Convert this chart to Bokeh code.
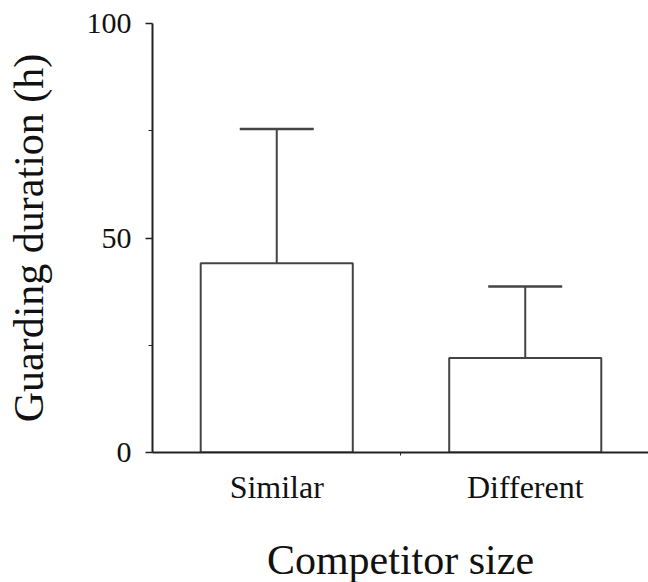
from bokeh.plotting import figure
from bokeh.models import Range1d, FixedTicker, Whisker, TeeHead, ColumnDataSource
from bokeh.embed import file_html
from bokeh.resources import INLINE

# data
categories = ["Similar", "Different"]
positions = [0.5, 1.5]
means = [44.1, 22.0]
sds = [31.3, 16.7]
y_ticks = [0, 50, 100]
y_minor = [25, 75]

upper = [m + s for m, s in zip(means, sds)]
src = ColumnDataSource(dict(x=positions, top=means, upper=upper, cat=categories))

FONT = "Liberation Serif"
AX = "#222222"
EDGE = "#444444"

p = figure(frame_width=496, frame_height=429, output_backend="svg", toolbar_location=None,
           x_range=Range1d(0, 1.996), y_range=Range1d(0, 100),
           min_border_left=152, min_border_top=23, min_border_right=0, min_border_bottom=130)
p.outline_line_color = None
p.grid.grid_line_color = None
p.background_fill_color = "white"
p.border_fill_color = "white"

p.vbar(x="x", top="top", bottom=0, width=0.612, source=src,
       fill_color="white", line_color=EDGE, line_width=2)

w = Whisker(base="x", upper="upper", lower="top", source=src,
            line_color=EDGE, line_width=2,
            upper_head=TeeHead(size=74, line_color=EDGE, line_width=2.5),
            lower_head=None)
p.add_layout(w)

# x axis
xa = p.xaxis[0]
xa.ticker = FixedTicker(ticks=positions, minor_ticks=[1.0])
xa.major_label_overrides = {pos: c for pos, c in zip(positions, categories)}
xa.major_tick_out = 0
xa.major_tick_in = 0
xa.minor_tick_out = 3
xa.minor_tick_in = 0
xa.minor_tick_line_color = AX
xa.axis_line_color = AX
xa.axis_line_width = 2
xa.major_label_text_font = FONT
xa.major_label_text_font_size = "32px"
xa.major_label_text_color = "#111111"
xa.major_label_standoff = 13
xa.axis_label = "Competitor size"
xa.axis_label_text_font = FONT
xa.axis_label_text_font_style = "normal"
xa.axis_label_text_font_size = "42px"
xa.axis_label_text_color = "#111111"
xa.axis_label_standoff = 29

# y axis
ya = p.yaxis[0]
ya.ticker = FixedTicker(ticks=y_ticks, minor_ticks=y_minor)
ya.major_tick_out = 7
ya.major_tick_in = 0
ya.minor_tick_out = 4
ya.minor_tick_in = 0
ya.major_tick_line_color = AX
ya.minor_tick_line_color = AX
ya.major_tick_line_width = 1.5
ya.axis_line_color = AX
ya.axis_line_width = 2
ya.major_label_text_font = FONT
ya.major_label_text_font_size = "30px"
ya.major_label_text_color = "#111111"
ya.major_label_standoff = 14
ya.axis_label = "Guarding duration (h)"
ya.axis_label_text_font = FONT
ya.axis_label_text_font_style = "normal"
ya.axis_label_text_font_size = "42px"
ya.axis_label_text_color = "#111111"
ya.axis_label_standoff = 32

open("out.html", "w").write(file_html(p, INLINE))
